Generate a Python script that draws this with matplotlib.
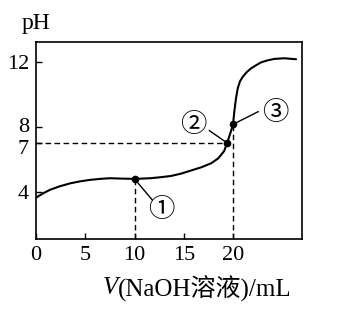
import matplotlib
matplotlib.use("Agg")
import matplotlib.pyplot as plt
from matplotlib.transforms import ScaledTranslation

# titration curve: V(NaOH) in mL, pH
vol = [0.0, 0.7, 1.4, 2.4, 3.5, 4.5, 5.5, 6.5, 7.5, 8.6, 10.0, 11.6, 12.6, 13.7,
       14.7, 15.7, 16.8, 17.8, 18.5, 19.1, 19.4, 19.7, 20.0, 20.13, 20.3,
       20.48, 20.7, 20.99, 21.4, 21.84, 22.4, 22.86, 23.5, 24.2, 25.2, 26.4]
ph = [3.62, 3.88, 4.10, 4.32, 4.51, 4.63, 4.72, 4.78, 4.82, 4.80, 4.78, 4.82,
      4.88, 4.96, 5.10, 5.29, 5.50, 5.75, 6.05, 6.50, 7.0, 7.55, 8.15, 8.93,
      9.75, 10.38, 10.80, 11.09, 11.38, 11.61, 11.82, 11.98, 12.10, 12.19,
      12.23, 12.17]

# marked points ①②③
pt_vol = [10.0, 19.4, 20.0]
pt_ph = [4.78, 7.0, 8.15]
pt_names = ["①", "②", "③"]
lbl_vol = [12.7, 16.0, 24.3]
lbl_ph = [2.86, 8.11, 8.87]
lead_vol = [11.8, 17.6, 22.55]
lead_ph = [3.48, 7.76, 8.93]

xticks = [0, 5, 10, 15, 20]
yticks = [4, 7, 8, 12]

serif = ["Liberation Serif", "Noto Sans CJK SC"]
circ = ["Noto Sans CJK SC", "DejaVu Sans"]

fig = plt.figure(figsize=(3.41, 3.14), dpi=100)
ax = fig.add_axes([0.1056, 0.239, 0.78, 0.627])

ax.plot(vol, ph, color="black", lw=1.5, solid_capstyle="round")

# dashed guide lines
ymin, ymax = 1.07, 13.23
ax.plot([0, pt_vol[1]], [pt_ph[1], pt_ph[1]], "k--", lw=1.0, dashes=(4, 2.5))
ax.plot([pt_vol[0], pt_vol[0]], [ymin, pt_ph[0]], "k--", lw=1.0, dashes=(4, 2.5))
ax.plot([pt_vol[2], pt_vol[2]], [ymin, pt_ph[2]], "k--", lw=1.0, dashes=(4, 2.5))

ax.plot(pt_vol, pt_ph, "o", color="black", ms=4.5)

for i in range(3):
    ax.plot([pt_vol[i], lead_vol[i]], [pt_ph[i], lead_ph[i]], color="black", lw=1.0)
    ax.text(lbl_vol[i], lbl_ph[i], pt_names[i], family=circ, fontsize=19,
            ha="center", va="center")

ax.set_xlim(0, 27)
ax.set_ylim(ymin, ymax)
ax.set_xticks(xticks)
ax.set_yticks(yticks)
ax.set_xticklabels([str(t) for t in xticks], family=serif, fontsize=16)
ax.set_yticklabels([str(t) for t in yticks], family=serif, fontsize=16)
ax.tick_params(direction="in", length=4, width=1.0, pad=5)
for s in ax.spines.values():
    s.set_linewidth(1.2)

# the printed axis spreads 7 and 8 a little further apart
labels = ax.get_yticklabels()
labels[1].set_transform(labels[1].get_transform() + ScaledTranslation(0, -3 / 72, fig.dpi_scale_trans))
labels[2].set_transform(labels[2].get_transform() + ScaledTranslation(0, 1 / 72, fig.dpi_scale_trans))

fig.text(36 / 341, 1 - 24 / 314, "pH", family=serif, fontsize=17,
         ha="center", va="center")
fig.text(118 / 341, 1 - 288 / 314, "V", family=serif, style="italic",
         fontsize=18, ha="right", va="center")
fig.text(118 / 341, 1 - 288 / 314, "(NaOH溶液)/mL", family=serif,
         fontsize=18, ha="left", va="center")

fig.savefig("out.png", dpi=100)
